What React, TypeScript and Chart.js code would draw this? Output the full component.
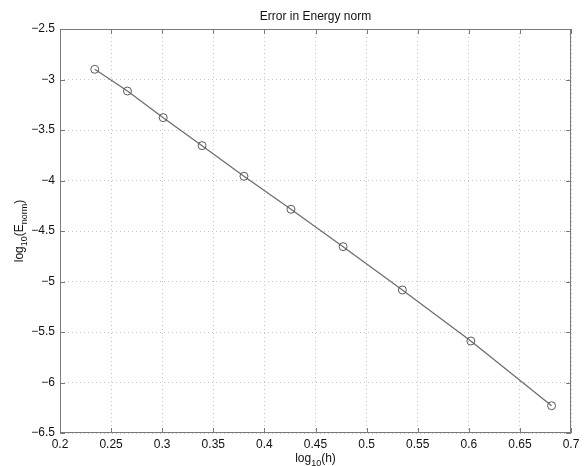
import React, { useEffect, useRef } from "react";
import { Chart, registerables } from "chart.js";

Chart.register(...registerables);

const titleText = "Error in Energy norm";
const xValues = [0.234, 0.266, 0.301, 0.339, 0.380, 0.426, 0.477, 0.535, 0.602, 0.681];
const yValues = [-2.899, -3.114, -3.378, -3.655, -3.958, -4.285, -4.655, -5.084, -5.589, -6.23];
const xRange = [0.2, 0.7];
const yRange = [-6.5, -2.5];
const xStep = 0.05;
const yStep = 0.5;

const FONT = '"Liberation Sans", Arial, sans-serif';
const TEXT = "#111";
const BOX = "#7a7a7a";

type Seg = { t: string; sub?: boolean };
const xTitle: Seg[] = [{ t: "log" }, { t: "10", sub: true }, { t: "(h)" }];
const yTitle: Seg[] = [{ t: "log" }, { t: "10", sub: true }, { t: "(E" }, { t: "norm", sub: true }, { t: ")" }];

function drawSegs(ctx: CanvasRenderingContext2D, segs: Seg[], baseline: number) {
  const widths = segs.map((s) => {
    ctx.font = `${s.sub ? 9 : 12}px ${FONT}`;
    return ctx.measureText(s.t).width;
  });
  const total = widths.reduce((a, b) => a + b, 0);
  let x = -total / 2;
  ctx.textBaseline = "alphabetic";
  ctx.textAlign = "left";
  segs.forEach((s, i) => {
    ctx.font = `${s.sub ? 9 : 12}px ${FONT}`;
    ctx.fillText(s.t, x, baseline + (s.sub ? 3.5 : 0));
    x += widths[i];
  });
}

const matlabPlugin = {
  id: "matlabFrame",
  afterDraw(chart: any) {
    const { ctx, chartArea } = chart;
    const { left, right, top, bottom } = chartArea;
    const xs = chart.scales.x;
    const ys = chart.scales.y;
    ctx.save();
    ctx.strokeStyle = BOX;
    ctx.lineWidth = 1;
    ctx.setLineDash([]);
    ctx.strokeRect(left + 0.5, top + 0.5, right - left - 1, bottom - top - 1);
    const len = 5;
    ctx.beginPath();
    xs.ticks.forEach((t: any) => {
      const px = Math.round(xs.getPixelForValue(t.value)) + 0.5;
      ctx.moveTo(px, bottom);
      ctx.lineTo(px, bottom - len);
      ctx.moveTo(px, top);
      ctx.lineTo(px, top + len);
    });
    ys.ticks.forEach((t: any) => {
      const py = Math.round(ys.getPixelForValue(t.value)) + 0.5;
      ctx.moveTo(left, py);
      ctx.lineTo(left + len, py);
      ctx.moveTo(right, py);
      ctx.lineTo(right - len, py);
    });
    ctx.stroke();

    ctx.fillStyle = TEXT;
    ctx.save();
    ctx.translate((left + right) / 2, 0);
    drawSegs(ctx, xTitle, 462);
    ctx.restore();

    ctx.save();
    ctx.translate(23, (top + bottom) / 2);
    ctx.rotate(-Math.PI / 2);
    drawSegs(ctx, yTitle, 0);
    ctx.restore();
    ctx.restore();
  },
};

function fmt(v: number) {
  const s = String(parseFloat(v.toFixed(2)));
  return s.startsWith("-") ? "\u2212" + s.slice(1) : s;
}

export default function App() {
  const ref = useRef<HTMLCanvasElement>(null);
  useEffect(() => {
    if (!ref.current) return;
    const chart = new Chart(ref.current, {
      type: "scatter",
      data: {
        datasets: [
          {
            data: xValues.map((x, i) => ({ x, y: yValues[i] })),
            showLine: true,
            borderColor: "#6e6e6e",
            borderWidth: 1.3,
            pointRadius: 4,
            pointBorderWidth: 1,
            pointBorderColor: "#5a5a5a",
            pointBackgroundColor: "rgba(255,255,255,0)",
            pointStyle: "circle",
          },
        ],
      },
      options: {
        responsive: false,
        animation: false,
        layout: { padding: { left: 0, right: 16, top: 0, bottom: 0 } },
        plugins: {
          legend: { display: false },
          tooltip: { enabled: false },
          title: {
            display: true,
            text: titleText,
            fullSize: false,
            color: TEXT,
            font: { family: FONT, size: 12, weight: "normal" },
            padding: { top: 9, bottom: 5.6 },
          },
        },
        scales: {
          x: {
            type: "linear",
            min: xRange[0],
            max: xRange[1],
            afterFit: (s: any) => {
              s.height = 33;
            },
            ticks: {
              stepSize: xStep,
              autoSkip: false,
              maxRotation: 0,
              padding: 4,
              color: TEXT,
              font: { family: FONT, size: 12 },
              callback: (v: any) => fmt(Number(v)),
            },
            grid: {
              drawTicks: false,
              color: "#c4c4c4",
              lineWidth: 1,
            },
            border: { display: false, dash: [1, 3] },
          },
          y: {
            type: "linear",
            min: yRange[0],
            max: yRange[1],
            afterFit: (s: any) => {
              s.width = 60;
            },
            ticks: {
              stepSize: yStep,
              autoSkip: false,
              padding: 5,
              color: TEXT,
              font: { family: FONT, size: 12 },
              callback: (v: any) => fmt(Number(v)),
            },
            grid: {
              drawTicks: false,
              color: "#c4c4c4",
              lineWidth: 1,
            },
            border: { display: false, dash: [1, 3] },
          },
        },
      },
      plugins: [matlabPlugin],
    });
    return () => chart.destroy();
  }, []);
  return (
    <div style={{ position: "fixed", left: 0, top: 0, width: 587, height: 466, background: "#fff" }}>
      <canvas ref={ref} width={587} height={466} style={{ display: "block" }} />
    </div>
  );
}
